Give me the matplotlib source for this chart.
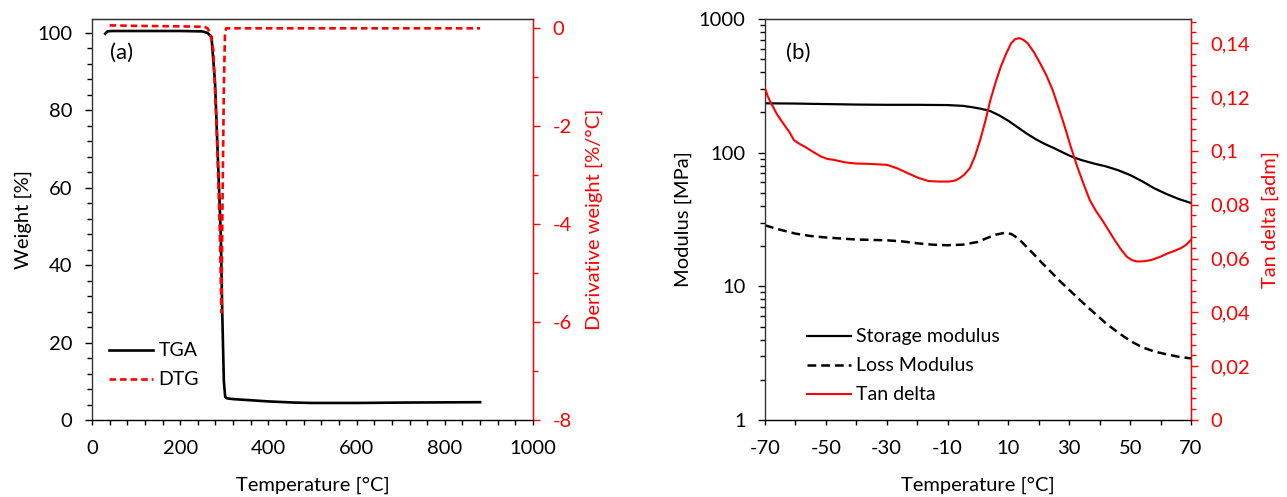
import matplotlib
matplotlib.use("Agg")
import matplotlib.pyplot as plt
from matplotlib.ticker import MultipleLocator, FuncFormatter, LogLocator, NullFormatter

plt.rcParams['font.family'] = ['Lato', 'DejaVu Sans']
plt.rcParams['font.size'] = 14.5
plt.rcParams['axes.unicode_minus'] = False

RED = '#ff0000'

# (a) TGA / DTG data
tga_temp = [30, 35, 45, 100, 200, 250, 262, 271, 279, 286, 292, 295.5, 299, 302, 306, 320, 360, 400, 460, 500, 600, 700, 880]
tga_weight = [99.8, 100.4, 100.5, 100.5, 100.5, 100.4, 100.0, 99.0, 87, 66, 48, 27, 10, 6.0, 5.6, 5.4, 5.1, 4.8, 4.5, 4.4, 4.4, 4.5, 4.6]

dtg_temp = [40, 100, 200, 255, 262, 268, 275, 283, 290, 293.5, 296, 299, 301.5, 304, 310, 400, 600, 880]
dtg_val = [0.06, 0.05, 0.04, 0.03, 0.0, -0.1, -0.44, -2.1, -4.2, -5.8, -3.5, -1.2, -0.15, 0.0, 0.0, 0.0, 0.0, 0.0]

# (b) DMA data
storage_temp = [-70, -60, -50, -40, -30, -20, -10, -5, -2, 1, 4, 7, 10, 13, 16, 19, 22, 25, 28, 31,
                34, 38, 42, 46, 50, 54, 58, 62, 66, 70]
storage_mod = [234, 233, 231, 229, 228, 228, 227, 224, 219, 213, 205, 190, 173, 155, 139, 126, 116, 108, 100, 93,
               88, 83, 79, 74, 68, 61, 54, 49, 45, 42]

loss_temp = [-70, -65, -60, -55, -50, -40, -30, -25, -20, -15, -10, -5, 0, 3, 6, 9, 11, 13, 15, 18,
             21, 24, 27, 30, 33, 36, 39, 42, 45, 48, 51, 54, 58, 62, 66, 70]
loss_mod = [28.6, 26.5, 24.8, 23.8, 23.2, 22.4, 22.1, 21.7, 21.0, 20.5, 20.3, 20.5, 21.5, 23, 24.4, 25.2, 24.6, 23, 20.8, 17.7,
            15, 12.8, 10.9, 9.4, 8.1, 7.0, 6.1, 5.3, 4.7, 4.2, 3.8, 3.5, 3.25, 3.1, 2.97, 2.89]

tan_temp = [-70, -69, -68, -66, -63.9, -62, -60.5, -58.5, -57, -54, -51.6, -49.5, -47.6, -43.5, -40, -36.7,
            -33, -29.9, -26.5, -23.1, -19.7, -16.3, -13, -9.5, -7.5, -6.1, -4.5, -2.7, -1, 0.7, 2.4, 4.1,
            5.8, 7.5, 9.2, 10.9, 12.2, 13.6, 15, 16.3, 18.3, 20.4, 22.5, 24.5, 26.5, 28.5, 30.5, 32.6,
            34.6, 36.7, 38.7, 40.8, 42.9, 44.9, 46.9, 48.9, 50.6, 52.3, 54.7, 57.1, 60, 62.5, 64.5, 66.6,
            68.3, 70]
tan_delta = [0.1233, 0.120, 0.1177, 0.1135, 0.110, 0.107, 0.104, 0.1025, 0.1016, 0.0995, 0.0979, 0.097,
             0.0967, 0.0957, 0.0953, 0.0952, 0.095, 0.0948, 0.0935, 0.0917, 0.090, 0.0888, 0.0886, 0.0886,
             0.089, 0.0898, 0.0912, 0.0935, 0.098, 0.104, 0.111, 0.119, 0.1255, 0.1313, 0.136, 0.140,
             0.1415, 0.1419, 0.1412, 0.140, 0.1368, 0.1326, 0.128, 0.1227, 0.116, 0.109, 0.1015, 0.0942,
             0.088, 0.0818, 0.0778, 0.0743, 0.0705, 0.0669, 0.0635, 0.0607, 0.0594, 0.0589, 0.059, 0.0595,
             0.0607, 0.062, 0.0628, 0.0638, 0.065, 0.0669]


def comma_fmt(v, pos):
    return f"{v:g}".replace('.', ',')


fig = plt.figure(figsize=(12.87, 4.97), dpi=100)

#################### (a) TGA ####################
ax1 = fig.add_axes([92 / 1287, 77 / 497, 441 / 1287, 401 / 497])
ax1b = ax1.twinx()

l1, = ax1.plot(tga_temp, tga_weight, color='black', lw=1.9, label='TGA')
l2, = ax1b.plot(dtg_temp, dtg_val, color=RED, lw=1.9, ls=(0, (2.5, 1.5)), label='DTG')

ax1.set_xlim(0, 1000)
ax1.set_ylim(0, 103.6)
ax1b.set_ylim(-8, 0.19)
ax1.xaxis.set_major_locator(MultipleLocator(200))
ax1.xaxis.set_minor_locator(MultipleLocator(40))
ax1.yaxis.set_major_locator(MultipleLocator(20))
ax1.yaxis.set_minor_locator(MultipleLocator(4))
ax1b.yaxis.set_major_locator(MultipleLocator(2))
ax1b.yaxis.set_minor_locator(MultipleLocator(1))

ax1.set_xlabel('Temperature [°C]', labelpad=14)
ax1.set_ylabel('Weight [%]', labelpad=4)
ax1b.set_ylabel('Derivative weight [%/°C]', color=RED, labelpad=10)
ax1.text(0.04, 0.915, '(a)', transform=ax1.transAxes, fontsize=16, va='center', ha='left')

leg1 = ax1b.legend(handles=[l1, l2], loc='center left', bbox_to_anchor=(0.038, 0.136),
                   frameon=False, borderpad=0, borderaxespad=0, handlelength=2.3,
                   handletextpad=0.25, labelspacing=0.62, fontsize=14)

#################### (b) DMA ####################
ax2 = fig.add_axes([765 / 1287, 77 / 497, 426 / 1287, 401 / 497])
ax2b = ax2.twinx()

l3, = ax2.plot(storage_temp, storage_mod, color='black', lw=1.6, label='Storage modulus')
l4, = ax2.plot(loss_temp, loss_mod, color='black', lw=1.8, ls=(0, (3.5, 2)), label='Loss Modulus')
l5, = ax2b.plot(tan_temp, tan_delta, color=RED, lw=1.5, label='Tan delta')

ax2.set_yscale('log')
ax2.set_xlim(-70, 70)
ax2.set_ylim(1, 1000)
ax2b.set_ylim(0, 0.149)
ax2.set_xticks([-70, -50, -30, -10, 10, 30, 50, 70])
ax2.xaxis.set_minor_locator(MultipleLocator(10))
ax2.yaxis.set_major_locator(LogLocator(base=10))
ax2.yaxis.set_minor_locator(LogLocator(base=10, subs=range(2, 10)))
ax2.yaxis.set_minor_formatter(NullFormatter())
ax2.yaxis.set_major_formatter(FuncFormatter(lambda v, p: f"{v:g}"))
ax2b.yaxis.set_major_locator(MultipleLocator(0.02))
ax2b.yaxis.set_minor_locator(MultipleLocator(0.004))
ax2b.yaxis.set_major_formatter(FuncFormatter(comma_fmt))

ax2.set_xlabel('Temperature [°C]', labelpad=14)
ax2.set_ylabel('Modulus [MPa]', labelpad=5)
ax2b.set_ylabel('Tan delta [adm]', color=RED, labelpad=8)
ax2.text(0.05, 0.915, '(b)', transform=ax2.transAxes, fontsize=16, va='center', ha='left')

leg2 = ax2b.legend(handles=[l3, l4, l5], loc='center left', bbox_to_anchor=(0.098, 0.135),
                   frameon=False, borderpad=0, borderaxespad=0, handlelength=2.3,
                   handletextpad=0.25, labelspacing=0.62, fontsize=14)

# common styling of the frames and ticks
for a in [ax1, ax2]:
    a.tick_params(axis='y', which='major', direction='out', length=5, width=1, pad=9, labelsize=14.5)
    a.tick_params(axis='y', which='minor', direction='out', length=3.5, width=1)
    a.tick_params(axis='x', which='both', direction='out', length=3.5, width=1, pad=11,
                  labelsize=14.5, top=False)
    for s in ['left', 'bottom', 'top']:
        a.spines[s].set_color('#333333')
        a.spines[s].set_linewidth(1)
for a in [ax1b, ax2b]:
    a.tick_params(axis='y', which='major', direction='out', length=5, width=1, pad=9,
                  colors=RED, labelsize=14.5)
    a.tick_params(axis='y', which='minor', direction='out', length=3.5, width=1, colors=RED)
    a.spines['right'].set_color(RED)
    a.spines['right'].set_linewidth(1)
    a.spines['left'].set_visible(False)
    a.spines['top'].set_color('#333333')

plt.savefig('out.png', dpi=100)
plt.close()
